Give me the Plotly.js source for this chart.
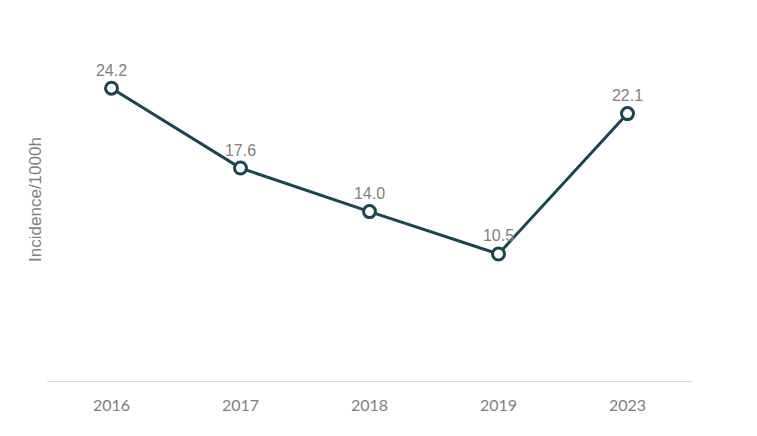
<!DOCTYPE html>
<html>
<head>
<meta charset="utf-8">
<script src="https://cdn.plot.ly/plotly-3.0.1.min.js"></script>
<style>html,body{margin:0;padding:0;background:#fff;}#chart{width:757px;height:436px;}</style>
</head>
<body>
<div id="chart"></div>
<script>
const years = ["2016", "2017", "2018", "2019", "2023"];
const incidence = [24.2, 17.6, 14.0, 10.5, 22.1];
const labels = incidence.map(v => v.toFixed(1));

const trace = {
  x: years,
  y: incidence,
  type: "scatter",
  mode: "lines+markers+text",
  text: labels,
  textposition: "top center",
  textfont: {family: "Liberation Sans", size: 16, color: "#7f7f7f"},
  line: {color: "#1a4450", width: 3},
  marker: {symbol: "circle", size: 12, color: "#ffffff", line: {color: "#1a4450", width: 3}},
  cliponaxis: false,
  hoverinfo: "none"
};

const layout = {
  width: 757,
  height: 436,
  margin: {l: 47, r: 65, t: 18, b: 55},
  paper_bgcolor: "#ffffff",
  plot_bgcolor: "#ffffff",
  showlegend: false,
  xaxis: {
    type: "category",
    range: [-0.5, 4.5],
    showgrid: false,
    zeroline: false,
    showline: true,
    linecolor: "#d9d9d9",
    linewidth: 1,
    ticks: "",
    ticklabelstandoff: 10,
    tickfont: {family: "Lato", size: 16, color: "#7f7f7f"}
  },
  yaxis: {
    range: [0, 30],
    showgrid: false,
    zeroline: false,
    showline: false,
    showticklabels: false,
    ticks: "",
    title: {text: "Incidence/1000h", font: {family: "Liberation Sans", size: 17, color: "#7f7f7f"}, standoff: 0}
  }
};

Plotly.newPlot("chart", [trace], layout, {displayModeBar: false, staticPlot: true});
</script>
</body>
</html>
